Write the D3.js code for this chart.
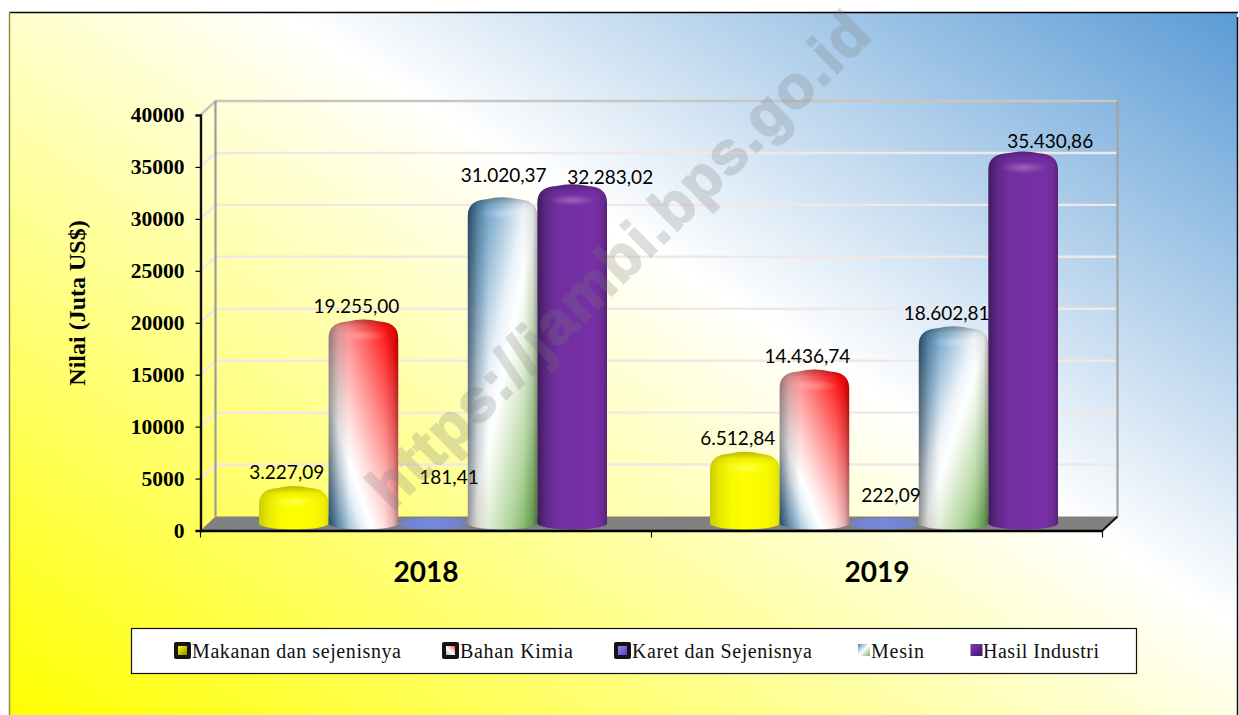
<!DOCTYPE html>
<html><head><meta charset="utf-8">
<script src="https://cdn.jsdelivr.net/npm/d3@7/dist/d3.min.js"></script>
<style>html,body{margin:0;padding:0;background:#fff;overflow:hidden}svg{display:block}</style>
</head><body><svg id="c" width="1239" height="715"></svg>
<script>
const years = ["2018", "2019"];
const seriesNames = ["Makanan dan sejenisnya", "Bahan Kimia", "Karet dan Sejenisnya", "Mesin", "Hasil Industri"];
const makanan = [3227.09, 6512.84];
const bahanKimia = [19255.00, 14436.74];
const karet = [181.41, 222.09];
const mesin = [31020.37, 18602.81];
const hasilIndustri = [32283.02, 35430.86];
const yTicks = [0, 5000, 10000, 15000, 20000, 25000, 30000, 35000, 40000];
const axisTitle = "Nilai (Juta US$)";
const watermark = "https://jambi.bps.go.id";

const allSeries = [makanan, bahanKimia, karet, mesin, hasilIndustri];
const svg = d3.select("#c");
const defs = svg.append("defs");
const DEPTH_X = 15, DEPTH_Y = 14;
const fmt = v => { const [a, b] = v.toFixed(2).split("."); return a.replace(/\B(?=(\d{3})+$)/g, ".") + "," + b; };

function lin(id, attrs, stops) {
  const g = defs.append("linearGradient").attr("id", id);
  Object.entries(attrs).forEach(([k, v]) => g.attr(k, v));
  stops.forEach(s => g.append("stop").attr("offset", s[0]).attr("stop-color", s[1]).attr("stop-opacity", s[2] === undefined ? 1 : s[2]));
}
lin("bg", {gradientUnits: "userSpaceOnUse", x1: 9, y1: 715, x2: 688, y2: -340},
  [[0, "#ffff00"], [0.59, "#ffffff"], [1, "#5b9bd5"]]);
lin("f0", {x1: 0, y1: 0, x2: 1, y2: 0}, [[0, "#f0f000"], [0.5, "#ffff00"], [1, "#f6f600"]]);
lin("f1", {x1: 0, y1: 1, x2: 1, y2: 0}, [[0, "#3c7aa8"], [0.12, "#8fb6d2"], [0.24, "#e6f0f6"], [0.31, "#ffffff"], [0.4, "#ffe4e4"], [0.62, "#ff8c8c"], [0.9, "#ff1010"], [1, "#ff0000"]]);
lin("f2", {x1: 0, y1: 0, x2: 1, y2: 0}, [[0, "#6f80cf"], [0.5, "#7888d8"], [1, "#6f80cf"]]);
lin("f3", {x1: 0, y1: 0, x2: 1, y2: 1}, [[0, "#3c7aa8"], [0.22, "#8db5d3"], [0.42, "#eaf2f8"], [0.52, "#ffffff"], [0.62, "#e6f2de"], [0.8, "#b0d49c"], [1, "#5f9e45"]]);
lin("f4", {x1: 0, y1: 0, x2: 1, y2: 0}, [[0, "#6e2f9e"], [1, "#7a30a8"]]);
lin("shade", {x1: 0, y1: 0, x2: 1, y2: 0},
  [[0, "#000", 0.42], [0.14, "#000", 0.14], [0.3, "#000", 0], [0.8, "#000", 0], [0.93, "#000", 0.1], [1, "#000", 0.3]]);
lin("capDark", {x1: 0, y1: 0, x2: 0, y2: 1}, [[0, "#000", 0.3], [0.6, "#000", 0.05], [1, "#000", 0]]);
const rg = defs.append("radialGradient").attr("id", "hl");
rg.append("stop").attr("offset", 0).attr("stop-color", "#fff").attr("stop-opacity", 0.26);
rg.append("stop").attr("offset", 1).attr("stop-color", "#fff").attr("stop-opacity", 0);
lin("sw0", {x1: 0, y1: 0, x2: 1, y2: 1}, [[0, "#ffff00"], [1, "#8a8a00"]]);
lin("sw1", {x1: 0, y1: 1, x2: 1, y2: 0}, [[0, "#9db8cc"], [0.45, "#fff"], [1, "#f05050"]]);
lin("sw2", {x1: 0, y1: 0, x2: 1, y2: 1}, [[0, "#9a80f0"], [1, "#5a3ec0"]]);
lin("sw3", {x1: 0, y1: 0, x2: 1, y2: 1}, [[0, "#4f86b0"], [0.5, "#fff"], [1, "#78b060"]]);
lin("sw4", {x1: 0, y1: 0, x2: 1, y2: 1}, [[0, "#8038b8"], [1, "#401868"]]);

// panel
svg.append("rect").attr("x", 9).attr("y", 12).attr("width", 1228).attr("height", 703).attr("fill", "url(#bg)");
const edge = (x1, y1, x2, y2, c, w) => svg.append("line").attr("x1", x1).attr("y1", y1).attr("x2", x2).attr("y2", y2).attr("stroke", c).attr("stroke-width", w);
edge(9, 12.5, 1238, 12.5, "#000", 1.5);
edge(9.5, 12, 9.5, 715, "#8f8f50", 1.5);
edge(1237.5, 17, 1237.5, 715, "#111", 1.5);

// scales
const y = d3.scaleLinear().domain([0, 40000]).range([530.5, 115]);
const x0 = d3.scaleBand().domain(years).range([200.5, 1102.5]);
const barBand = d3.scaleBand().domain(d3.range(5)).range([0, 348]);
const groupLeft = yr => x0(yr) + (x0.bandwidth() - 348) / 2 + 7;

// walls
const wall = svg.append("g");
wall.append("polygon").attr("fill", "#808080")
  .attr("points", [[200.5, y(0)], [200.5 + DEPTH_X, y(0) - DEPTH_Y], [1102.5 + DEPTH_X, y(0) - DEPTH_Y], [1102.5, y(0)]].join(" "));
wall.selectAll(".grid").data(yTicks.slice(1)).join("path")
  .attr("fill", "none")
  .attr("stroke", d => d === 40000 ? "#c9c5bf" : "#f1e8e6")
  .attr("stroke-width", 2.4)
  .attr("d", d => `M200.5,${y(d)}L${200.5 + DEPTH_X},${y(d) - DEPTH_Y}L${1102.5 + DEPTH_X},${y(d) - DEPTH_Y}`);
edge(215.5, y(40000) - DEPTH_Y, 215.5, y(0) - DEPTH_Y, "#9c9c9c", 2.2);
edge(1117.5, y(40000) - DEPTH_Y, 1117.5, y(0) - DEPTH_Y, "#a3a3a3", 2.2);
edge(1102.5, y(0), 1117.5, y(0) - DEPTH_Y, "#111", 2);

// bars
const barsG = svg.append("g");
const labelNudge = [
  [[-7, -14], [-7, -13]], [[-7, -13], [-7, -13]], [[16, -40], [7, -22]], [[1, -22], [-7, -13]], [[38, -7], [27, -10]]
];
const barBottom = y(0) - 1, rb = 6, OFFSET = 11;
const labels = [];
allSeries.forEach((vals, s) => {
  vals.forEach((v, i) => {
    const yr = years[i];
    const xa = groupLeft(yr) + barBand(s), w = barBand.bandwidth(), xb = xa + w, xc = xa + w / 2;
    const t = y(v) - OFFSET;
    const body = barBottom - rb - t;
    const flat = body < 10;
    const cap = 19, cx = 19;
    const d = flat
      ? `M${xa},${barBottom - rb}A${w / 2},${rb} 0 0 0 ${xb},${barBottom - rb}A${w / 2},${rb} 0 0 0 ${xa},${barBottom - rb}Z`
      : `M${xa},${barBottom - rb}A${w / 2},${rb} 0 0 0 ${xb},${barBottom - rb}L${xb},${t + cap}` +
        `C${xb},${t + cap * .35} ${xb - cx * .4},${t + cap * .15} ${xb - cx},${t + cap * .1}` +
        `Q${xc},${t - cap * .1} ${xa + cx},${t + cap * .1}` +
        `C${xa + cx * .4},${t + cap * .15} ${xa},${t + cap * .35} ${xa},${t + cap}Z`;
    const id = `clip${s}${i}`;
    defs.append("clipPath").attr("id", id).append("path").attr("d", d);
    const g = barsG.append("g");
    g.append("path").attr("d", d).attr("fill", `url(#f${s})`);
    if (!flat) {
      g.append("path").attr("d", d).attr("fill", "url(#shade)").attr("opacity", s === 0 ? 0.35 : 1);
      const cg = g.append("g").attr("clip-path", `url(#${id})`);
      cg.append("rect").attr("x", xa).attr("y", t - 1).attr("width", w).attr("height", 14).attr("fill", "url(#capDark)");
      cg.append("ellipse").attr("cx", xc).attr("cy", t + 16).attr("rx", w * .34).attr("ry", 6).attr("fill", "url(#hl)");
    }
    labels.push({text: fmt(v), x: xc + labelNudge[s][i][0], y: t + labelNudge[s][i][1]});
  });
});

// axes
const yAxis = d3.axisLeft(y).tickValues(yTicks).tickSize(5).tickPadding(11).tickFormat(d3.format("d"));
const yg = svg.append("g").attr("transform", "translate(200.5,0)").call(yAxis);
yg.select(".domain").attr("stroke", "#111").attr("stroke-width", 2.4);
yg.selectAll(".tick line").attr("stroke", "#000").attr("stroke-width", 1.2);
yg.selectAll("text").attr("font-family", "'Liberation Serif'").attr("font-weight", 700).attr("font-size", 21.5).attr("fill", "#000");

const xAxis = d3.axisBottom(x0).tickSize(0).tickPadding(32);
const xg = svg.append("g").attr("transform", `translate(0,${y(0)})`).call(xAxis);
xg.select(".domain").attr("stroke", "#000").attr("stroke-width", 2.4);
xg.selectAll("text").attr("font-family", "Lato").attr("font-weight", 700).attr("font-size", 28).attr("fill", "#000");
xg.selectAll(".edge").data([200.5, 200.5 + x0.bandwidth(), 1102.5]).join("line").attr("class", "edge")
  .attr("x1", d => d).attr("x2", d => d).attr("y1", 0).attr("y2", 7).attr("stroke", "#111").attr("stroke-width", 1.2);

svg.append("text").attr("transform", "translate(85,303) rotate(-90)").attr("text-anchor", "middle")
  .attr("font-family", "'Liberation Serif'").attr("font-weight", 700).attr("font-size", 24).attr("fill", "#000").text(axisTitle);

// value labels
svg.append("g").selectAll("text").data(labels).join("text")
  .attr("x", d => d.x).attr("y", d => d.y).attr("dy", "0.35em").attr("text-anchor", "middle")
  .attr("font-family", "Lato").attr("font-size", 19).attr("fill", "#000").text(d => d.text);

// legend
const lg = svg.append("g");
lg.append("rect").attr("x", 131.5).attr("y", 628.5).attr("width", 1005).attr("height", 45).attr("fill", "#fff").attr("stroke", "#111").attr("stroke-width", 1.2);
const swatchX = [174, 442, 614, 857, 969.5];
const textX = [192, 460, 632, 871, 983];
const textW = [209, 113, 180, 53, 116];
seriesNames.forEach((n, i) => {
  const dark = i < 3;
  if (dark) lg.append("rect").attr("x", swatchX[i]).attr("y", 642).attr("width", 17).attr("height", 17).attr("rx", 2).attr("fill", "#141414");
  const inset = dark ? 4 : 1;
  lg.append("rect").attr("x", swatchX[i] + inset).attr("y", 642 + (dark ? 4 : 2)).attr("width", dark ? 9 : 12).attr("height", dark ? 9 : 12).attr("fill", `url(#sw${i})`);
  lg.append("text").attr("x", textX[i]).attr("y", 658).attr("font-family", "'Liberation Serif'").attr("font-size", 20)
    .attr("textLength", textW[i]).attr("lengthAdjust", "spacing").attr("fill", "#111").text(n);
});

// watermark
svg.append("text").attr("transform", "translate(392,512) rotate(-44.6)")
  .attr("font-family", "'Liberation Sans'").attr("font-weight", 700).attr("font-size", 60)
  .attr("textLength", 676).attr("lengthAdjust", "spacing")
  .attr("fill", "#7a7a7a").attr("stroke", "#7a7a7a").attr("stroke-width", 2)
  .attr("opacity", 0.24).text(watermark);
</script></body></html>
